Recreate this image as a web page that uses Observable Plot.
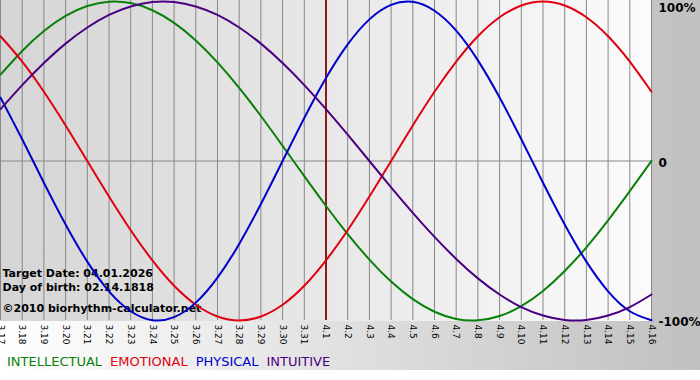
<!DOCTYPE html>
<html>
<head>
<meta charset="utf-8">
<script src="https://cdn.jsdelivr.net/npm/d3@7"></script>
<script src="https://cdn.jsdelivr.net/npm/@observablehq/plot@0.6"></script>
<style>
  body { margin: 0; background: #fff; }
  #wrap { width: 700px; height: 370px; background: linear-gradient(to right, #ffffff, #c0c0c0); position: relative; }
  #legend { position: absolute; left: 7px; top: 354px; display: flex; gap: 8px; font: 13px "DejaVu Sans", sans-serif; line-height: 15px; white-space: nowrap; }
</style>
</head>
<body>
<div id="wrap">
  <div id="chart"></div>
  <div id="legend"></div>
</div>
<script>
// Day labels (month.day) shown along the x axis
const dayLabels = ["3.17","3.18","3.19","3.20","3.21","3.22","3.23","3.24","3.25","3.26","3.27","3.28","3.29","3.30","3.31",
                   "4.1","4.2","4.3","4.4","4.5","4.6","4.7","4.8","4.9","4.10","4.11","4.12","4.13","4.14","4.15","4.16"];
const targetDay = "4.1";

// Series values (-1 .. 1) for each day
const intellectual = [0.541,0.690,0.815,0.910,0.972,0.999,0.990,0.945,0.866,0.756,0.618,0.458,0.282,0.095,-0.095,
                      -0.282,-0.458,-0.618,-0.756,-0.866,-0.945,-0.990,-0.999,-0.972,-0.910,-0.815,-0.690,-0.541,-0.372,-0.189,0.000];
const emotional    = [0.782,0.623,0.434,0.223,0.000,-0.223,-0.434,-0.623,-0.782,-0.901,-0.975,-1.000,-0.975,-0.901,-0.782,
                      -0.623,-0.434,-0.223,0.000,0.223,0.434,0.623,0.782,0.901,0.975,1.000,0.975,0.901,0.782,0.623,0.434];
const physical     = [0.398,0.136,-0.136,-0.398,-0.631,-0.817,-0.942,-0.998,-0.979,-0.888,-0.731,-0.520,-0.270,0.000,0.270,
                      0.520,0.731,0.888,0.979,0.998,0.942,0.817,0.631,0.398,0.136,-0.136,-0.398,-0.631,-0.817,-0.942,-0.998];
const intuitive    = [0.325,0.476,0.614,0.736,0.837,0.916,0.969,0.997,0.997,0.969,0.916,0.837,0.736,0.614,0.476,
                      0.325,0.165,0.000,-0.165,-0.325,-0.476,-0.614,-0.736,-0.837,-0.916,-0.969,-0.997,-0.997,-0.969,-0.916,-0.837];

const seriesNames  = ["INTELLECTUAL","EMOTIONAL","PHYSICAL","INTUITIVE"];
const seriesColors = ["#0a800a","#e00010","#0000cc","#4b0082"];
const seriesValues = [intellectual, emotional, physical, intuitive];

const yTickValues = [1, 0, -1];
const yTickLabels = ["100%", "0", "-100%"];

const annotationLines = ["Target Date: 04.01.2026", "Day of birth: 02.14.1818", "©2010 biorhythm-calculator.net"];

const dayIndex = dayLabels.map((d, i) => i);
const rows = seriesValues.flatMap((vals, s) => vals.map((v, i) => ({series: seriesNames[s], i, v})));

// plot-area gradient background
function background(index, scales, values, dimensions) {
  const {width, height, marginLeft, marginRight, marginBottom} = dimensions;
  const g = d3.create("svg:g");
  const id = "plotbg";
  const grad = g.append("defs").append("linearGradient").attr("id", id).attr("x1", 0).attr("x2", 1).attr("y1", 0).attr("y2", 0);
  grad.append("stop").attr("offset", 0).attr("stop-color", "#d5d5d5");
  grad.append("stop").attr("offset", 1).attr("stop-color", "#fbfbfb");
  g.append("rect")
    .attr("x", marginLeft).attr("y", 0)
    .attr("width", width - marginLeft - marginRight)
    .attr("height", height - marginBottom + 1)
    .attr("fill", `url(#${id})`);
  return g.node();
}

const chart = Plot.plot({
  width: 700,
  height: 345,
  marginLeft: 0,
  marginRight: 49,
  marginTop: 1,
  marginBottom: 25,
  style: {fontFamily: "DejaVu Sans, sans-serif", fontSize: "9px", background: "transparent", color: "#000", overflow: "visible"},
  x: {domain: [0, dayLabels.length - 1], label: null},
  y: {domain: [-1, 1], axis: null, label: null},
  color: {domain: seriesNames, range: seriesColors},
  marks: [
    background,
    Plot.ruleX(dayIndex, {stroke: "#888", strokeWidth: 1, insetTop: -1}),
    Plot.ruleY([0], {stroke: "#888", strokeWidth: 1}),
    Plot.ruleX([dayLabels.indexOf(targetDay)], {stroke: "#8b1a1a", strokeWidth: 2, insetTop: -1}),
    Plot.text([annotationLines[0]], {frameAnchor: "bottom-left", textAnchor: "start", lineAnchor: "middle", dx: 2, dy: -47.5, fontSize: 11, fontWeight: "bold", fill: "#000"}),
    Plot.text([annotationLines[1]], {frameAnchor: "bottom-left", textAnchor: "start", lineAnchor: "middle", dx: 2, dy: -33.5, fontSize: 11, fontWeight: "bold", fill: "#000"}),
    Plot.text([annotationLines[2]], {frameAnchor: "bottom-left", textAnchor: "start", lineAnchor: "middle", dx: 2, dy: -12.5, fontSize: 11, fontWeight: "bold", fill: "#000"}),
    Plot.line(rows, {x: "i", y: "v", z: "series", stroke: "series", strokeWidth: 2, curve: "natural"}),
    Plot.axisX({ticks: dayIndex, tickFormat: i => dayLabels[i], tickRotate: 90, tickSize: 0, tickPadding: 4, fontSize: 9, label: null}),
    Plot.text([yTickLabels[0]], {y: [yTickValues[0]], frameAnchor: "right", textAnchor: "start", lineAnchor: "top", dx: 7, dy: 2, fontSize: 12, fontWeight: "bold", fill: "#000"}),
    Plot.text(yTickLabels.slice(1), {y: yTickValues.slice(1), frameAnchor: "right", textAnchor: "start", lineAnchor: "middle", dx: 7, dy: 2, fontSize: 12, fontWeight: "bold", fill: "#000"})
  ]
});
document.getElementById("chart").appendChild(chart);

const legend = document.getElementById("legend");
seriesNames.forEach((n, k) => {
  const s = document.createElement("span");
  s.textContent = n;
  s.style.color = seriesColors[k];
  legend.appendChild(s);
});
</script>
</body>
</html>
